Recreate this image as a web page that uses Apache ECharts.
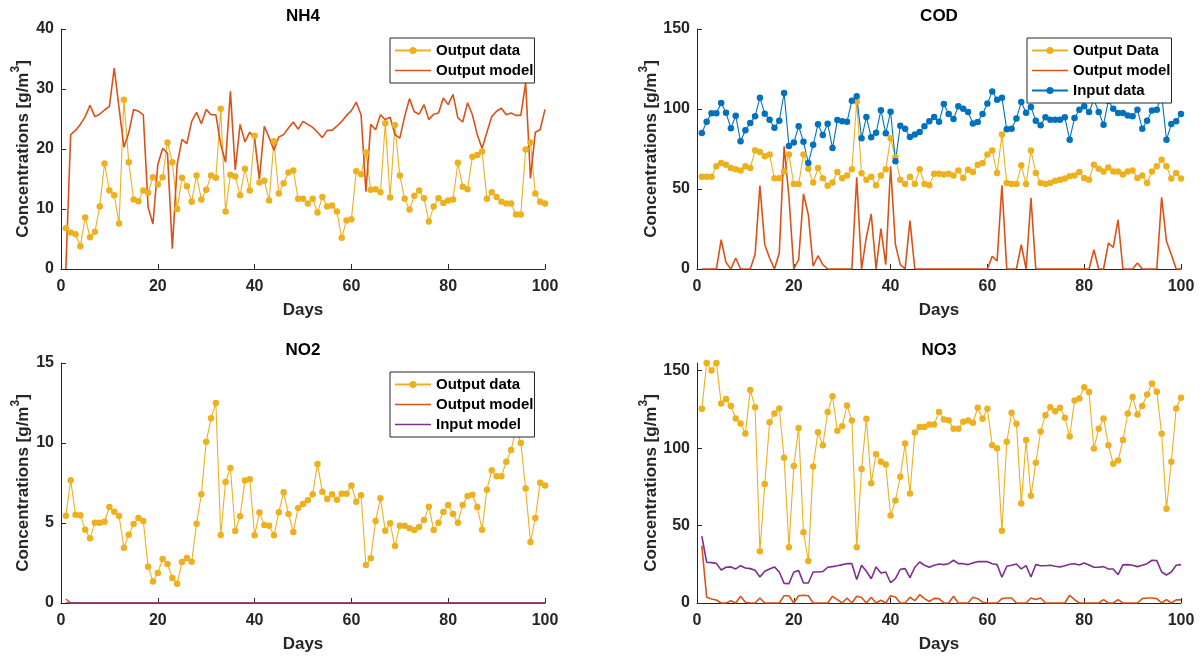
<!DOCTYPE html>
<html><head><meta charset="utf-8">
<script src="https://cdn.jsdelivr.net/npm/echarts@6/dist/echarts.min.js"></script>
<style>html,body{margin:0;padding:0;background:#fff}#c{width:1203px;height:656px}</style>
</head><body><div id="c"></div>
<script>
const days = [1,2,3,4,5,6,7,8,9,10,11,12,13,14,15,16,17,18,19,20,21,22,23,24,25,26,27,28,29,30,31,32,33,34,35,36,37,38,39,40,41,42,43,44,45,46,47,48,49,50,51,52,53,54,55,56,57,58,59,60,61,62,63,64,65,66,67,68,69,70,71,72,73,74,75,76,77,78,79,80,81,82,83,84,85,86,87,88,89,90,91,92,93,94,95,96,97,98,99,100];
const titles = ['NH4', 'COD', 'NO2', 'NO3'];
const xTicks = [0, 20, 40, 60, 80, 100];
const nh4Ticks = [0, 10, 20, 30, 40];
const codTicks = [0, 50, 100, 150];
const no2Ticks = [0, 5, 10, 15];
const no3Ticks = [0, 50, 100, 150];
const no3Max = 155;

const nh4OutputData = [6.8,6.1,5.8,3.8,8.6,5.3,6.2,10.4,17.6,13.1,12.3,7.6,28.2,17.8,11.6,11.3,13.1,12.7,15.3,14.1,15.3,21.1,17.8,10.0,15.2,13.8,11.2,15.6,11.6,13.2,15.6,15.2,26.7,9.6,15.7,15.4,12.3,16.7,13.1,22.2,14.4,14.7,11.4,21.3,12.6,14.3,16.1,16.4,11.7,11.7,10.9,11.7,9.4,12.0,10.4,10.6,9.6,5.2,8.1,8.3,16.3,15.8,19.4,13.2,13.3,12.8,24.3,11.9,24.0,15.6,11.7,9.9,12.2,13.1,11.8,7.9,10.4,11.8,11.0,11.4,11.6,17.7,13.7,13.3,18.7,19.0,19.6,11.7,12.8,12.0,11.2,10.9,10.9,9.1,9.1,19.9,21.1,12.6,11.2,10.9];
const nh4OutputModel = [0,22.4,23.1,24.1,25.4,27.3,25.4,25.8,26.5,27.1,33.5,26.8,20.3,22.7,26.6,26.3,25.7,10.3,7.5,17.4,20.1,19.3,3.4,17.4,21.6,20.9,24.6,26.1,24.2,26.6,25.7,25.7,20.8,17.8,29.6,16.5,24.1,21.2,22.8,21.7,15.0,23.8,21.9,19.8,22.0,22.4,23.5,24.5,23.3,24.6,24.1,23.6,22.8,21.9,23.1,23.1,23.8,24.6,25.6,26.4,27.8,25.7,12.9,24.1,23.2,25.7,24.9,25.3,22.4,21.8,25.4,28.4,26.2,25.8,27.4,24.9,25.8,26.0,28.5,27.4,29.1,25.2,24.5,27.7,25.7,22.4,20.1,22.8,25.4,26.3,26.8,25.7,26.0,25.6,25.6,31.0,15.1,22.8,23.2,26.6];

const codOutputData = [57.7,57.7,57.7,64.2,66.3,65.2,63.1,62.3,61.5,64.2,63.1,74.2,73.1,70.4,71.5,56.7,56.7,61.0,71.5,53.1,53.1,71.5,62.7,54.0,63.1,56.7,52.1,54.0,60.6,56.7,58.5,62.3,104.6,59.8,55.8,57.7,52.3,58.5,62.3,81.7,69.8,55.8,53.1,57.7,53.1,62.3,53.1,52.3,59.6,59.6,59.0,59.6,58.5,61.5,56.9,62.1,60.6,65.2,66.3,71.5,74.0,60.0,84.0,53.8,53.1,53.1,64.8,53.1,74.0,60.0,53.8,53.1,53.8,55.2,55.8,56.5,57.9,58.5,60.6,56.9,55.8,65.2,62.7,61.0,63.5,61.0,61.0,59.0,61.0,61.5,56.9,58.5,53.8,61.0,64.2,68.3,64.2,56.5,60.0,56.5];
const codOutputModel = [0,0,0,0,18.3,4,0,6.9,0,0,0,9,52.1,15.2,6.9,0,10,76.7,45,0,5.8,46.9,34,1.7,8.3,2.7,0,0,0,0,0,0,57.3,0,20,34.4,0,25.2,2.7,64.2,15.2,2.7,0,30.2,0,0,0,0,0,0,0,0,0,0,0,0,0,0,0,0,8,5,52.3,0,0,0,15.2,0,44.4,0,0,0,0,0,0,0,0,0,0,0,0,12,0,0,16.2,13.5,30.8,0,0,0,3.7,0,0,0,0,44.8,17.3,9,0,0];
const codInputData = [85.0,92.1,97.3,97.3,103.8,97.7,87.9,95.8,79.8,86.7,91.3,95.4,107.1,97.1,93.3,88.3,92.7,110.0,76.9,79.0,89.2,79.6,66.3,77.7,90.4,83.8,90.8,75.6,93.1,92.3,92.1,105.2,107.9,81.7,95.0,82.3,85.2,99.2,84.8,98.3,67.3,89.6,87.7,82.5,84.0,85.6,89.2,92.3,95.0,92.0,103.1,96.9,93.8,101.7,100.2,98.1,91.0,91.9,96.9,103.5,111.0,105.8,107.1,87.3,87.7,94.0,104.4,97.7,101.3,92.7,89.8,94.8,93.3,93.3,93.3,94.8,80.8,94.4,99.6,101.7,98.1,105.8,98.1,90.2,105.2,100.2,97.5,97.5,96.0,95.4,99.6,87.7,92.7,99.0,99.6,109.0,80.8,90.6,92.3,96.9];

const no2OutputData = [5.46,7.67,5.52,5.48,4.58,4.04,5.02,5.02,5.08,6.0,5.71,5.44,3.46,4.27,4.94,5.31,5.13,2.27,1.35,1.88,2.75,2.44,1.56,1.21,2.56,2.81,2.58,4.96,6.79,10.08,11.54,12.5,4.25,7.56,8.44,4.5,5.42,7.65,7.73,4.23,5.65,4.88,4.83,4.23,5.67,6.92,5.56,4.44,5.94,6.19,6.42,6.79,8.69,6.96,6.5,6.79,6.46,6.83,6.83,7.35,6.33,6.73,2.38,2.79,5.13,6.54,4.52,4.98,3.56,4.83,4.83,4.67,4.56,4.75,5.19,6.02,4.56,5.02,5.69,6.13,5.56,5.02,6.13,6.69,6.77,6.0,4.58,7.08,8.29,7.92,7.92,8.83,9.56,10.9,10.0,7.15,3.81,5.31,7.52,7.35];
const no2OutputModel = [0.25,0,0,0,0,0,0,0,0,0,0,0,0,0,0,0,0,0,0,0,0,0,0,0,0,0,0,0,0,0,0,0,0,0,0,0,0,0,0,0,0,0,0,0,0,0,0,0,0,0,0,0,0,0,0,0,0,0,0,0,0,0,0,0,0,0,0,0,0,0,0,0,0,0,0,0,0,0,0,0,0,0,0,0,0,0,0,0,0,0,0,0,0,0,0,0,0,0,0,0];
const no2InputModel = [0,0,0,0,0,0,0,0,0,0,0,0,0,0,0,0,0,0,0,0,0,0,0,0,0,0,0,0,0,0,0,0,0,0,0,0,0,0,0,0,0,0,0,0,0,0,0,0,0,0,0,0,0,0,0,0,0,0,0,0,0,0,0,0,0,0,0,0,0,0,0,0,0,0,0,0,0,0,0,0,0,0,0,0,0,0,0,0,0,0,0,0,0,0,0,0,0,0,0,0];

const no3OutputData = [125.4,155,150.2,155,128.9,131.7,127.2,119.2,115.9,109.5,137.5,126.5,33.4,76.9,116.8,122.4,125.6,93.8,36.0,88.4,113.1,45.7,27.2,88.1,110.3,101.9,123.3,133.6,111.2,114.2,127.6,117.9,36.0,86.6,119.0,77.4,96.1,91.2,89.4,56.5,66.2,81.5,103.0,70.7,110.1,113.6,113.6,115.3,115.3,123.3,118.5,118.1,112.5,112.5,117.0,117.9,116.4,126.1,119.0,125.4,101.9,100.0,46.6,104.1,122.8,115.7,64.2,105.2,69.2,90.5,110.8,121.3,126.5,123.9,126.1,119.6,107.5,130.8,132.1,139.4,136.2,99.8,112.5,119.2,101.9,89.9,92.0,105.2,122.4,133.0,121.8,127.2,134.7,141.8,136.4,109.3,60.8,91.2,125.6,132.5];
const no3OutputModel = [37,3.7,2.6,1.9,0,0,1.5,0,4.3,0.5,0,0,3.2,0,0,0,0,4.7,4.7,0,4.7,5,4.7,0,0,0,0,4.3,2.2,0,3.2,0,4.3,3.5,0,3.7,0,1.8,0,4.7,3.9,0,0,3.7,1.5,5.4,2.8,1,3,2.8,0,0,4.3,0,0,0,3.7,2.8,0.5,0,0,0,2.8,3.2,3.2,0,0,0,3.2,2.2,3.2,0,0,0,0,0,5,2.2,0,0,0,0,0,2.2,0,0,2.2,0,0,0,0,2.8,3.2,3.2,2.8,0,2.2,0,2,2];
const no3InputModel = [43.1,26.3,26.1,25.6,21.3,23.1,23.3,22.0,24.1,22.6,22.2,21.1,16.8,20.5,22.0,23.3,20.0,12.7,12.5,20.0,20.9,12.9,12.9,20.0,20.0,20.3,23.1,23.5,24.1,24.8,25.4,25.4,15.1,24.4,20.5,15.7,23.3,19.4,20.0,13.1,15.7,21.8,22.2,16.4,23.1,26.5,24.4,23.1,24.4,25.2,24.8,25.4,27.6,25.4,25.4,24.8,25.9,26.7,26.7,26.7,25.4,24.8,16.6,23.7,24.4,25.2,22.0,24.1,16.8,24.8,24.1,24.1,24.4,23.7,23.3,24.1,25.0,25.4,24.6,25.9,24.6,23.1,23.1,23.5,22.0,22.0,18.3,24.6,24.8,24.4,23.5,24.4,25.4,27.6,27.4,20.0,18.1,20.0,24.4,24.8];

const F = "'Liberation Sans', Arial, Helvetica, sans-serif";
const YELLOW = '#EDB120', RED = '#D95319', BLUE = '#0072BD', PURPLE = '#7E2F8E';
const AX = '#262626';
const LINE_ICON = 'path://M0,0H36V1.6H0Z';

const grids = [
  {left: 61, top: 29, width: 484, height: 240},
  {left: 697, top: 29, width: 484, height: 240},
  {left: 61, top: 363, width: 484, height: 240},
  {left: 697, top: 363, width: 484, height: 240}
];

function pairs(vals) { return days.map((d, i) => [d, vals[i]]); }

function xAx(gi) {
  return {
    type: 'value', gridIndex: gi, min: xTicks[0], max: xTicks[xTicks.length - 1], interval: xTicks[1] - xTicks[0],
    name: 'Days', nameLocation: 'middle', nameGap: 33,
    nameTextStyle: {fontSize: 17, fontWeight: 'bold', color: AX, fontFamily: F},
    axisLine: {lineStyle: {color: AX, width: 1}},
    axisTick: {inside: true, length: 5, lineStyle: {color: AX}},
    axisLabel: {fontSize: 16, fontWeight: 'bold', color: AX, margin: 10, fontFamily: F},
    splitLine: {show: false}
  };
}
function yAx(gi, ticks, max) {
  return {
    type: 'value', gridIndex: gi, min: ticks[0], max: max, interval: ticks[1] - ticks[0],
    name: '{a|Concentrations [g/m}{s|3}{a|]}', nameLocation: 'middle', nameGap: 29, nameRotate: 90,
    nameTextStyle: {
      fontFamily: F, color: AX,
      rich: {
        a: {fontSize: 17, fontWeight: 'bold', color: AX, fontFamily: F, lineHeight: 22, verticalAlign: 'bottom'},
        s: {fontSize: 12, fontWeight: 'bold', color: AX, fontFamily: F, lineHeight: 22, verticalAlign: 'top'}
      }
    },
    axisLine: {show: true, lineStyle: {color: AX, width: 1}},
    axisTick: {show: true, inside: true, length: 5, lineStyle: {color: AX}, customValues: ticks},
    axisLabel: {fontSize: 16, fontWeight: 'bold', color: AX, margin: 7, fontFamily: F, customValues: ticks},
    splitLine: {show: false}
  };
}
function dataSeries(name, vals, gi, color) {
  return {type: 'line', name: name, xAxisIndex: gi, yAxisIndex: gi, data: pairs(vals),
    symbol: 'circle', symbolSize: 6.5, showSymbol: true, itemStyle: {color: color},
    lineStyle: {color: color, width: 1.1}, emphasis: {disabled: true}, clip: false};
}
function modelSeries(name, vals, gi, color) {
  return {type: 'line', name: name, xAxisIndex: gi, yAxisIndex: gi, data: pairs(vals),
    symbol: 'none', showSymbol: false, itemStyle: {color: color},
    lineStyle: {color: color, width: 1.6}, emphasis: {disabled: true}};
}
function legend(left, top, items) {
  return {left: left, top: top, orient: 'vertical', itemWidth: 36, itemHeight: 9, itemGap: 1,
    padding: [3, 1, 3, 4], borderColor: AX, borderWidth: 1, backgroundColor: '#fff',
    selectedMode: false, textStyle: {fontSize: 15, fontWeight: 'bold', color: '#000', fontFamily: F, lineHeight: 19},
    data: items};
}

const option = {
  animation: false,
  backgroundColor: '#fff',
  title: titles.map((t, i) => ({
    text: t, left: grids[i].left + grids[i].width / 2, top: grids[i].top - 21, textAlign: 'center', padding: 0,
    textStyle: {fontSize: 17, fontWeight: 'bold', color: '#000', fontFamily: F}
  })),
  grid: grids,
  xAxis: [xAx(0), xAx(1), xAx(2), xAx(3)],
  yAxis: [yAx(0, nh4Ticks, nh4Ticks[nh4Ticks.length - 1]), yAx(1, codTicks, codTicks[codTicks.length - 1]),
          yAx(2, no2Ticks, no2Ticks[no2Ticks.length - 1]), yAx(3, no3Ticks, no3Max)],
  legend: [
    legend(390, 38, ['Output data', {name: 'Output model', icon: LINE_ICON}]),
    legend(1027, 38, ['Output Data', {name: 'Output model', icon: LINE_ICON}, 'Input data']),
    legend(390, 372, ['Output data', {name: 'Output model', icon: LINE_ICON}, {name: 'Input model', icon: LINE_ICON}])
  ],
  series: [
    dataSeries('Output data', nh4OutputData, 0, YELLOW),
    modelSeries('Output model', nh4OutputModel, 0, RED),
    dataSeries('Output Data', codOutputData, 1, YELLOW),
    modelSeries('Output model', codOutputModel, 1, RED),
    dataSeries('Input data', codInputData, 1, BLUE),
    dataSeries('Output data', no2OutputData, 2, YELLOW),
    modelSeries('Output model', no2OutputModel, 2, RED),
    modelSeries('Input model', no2InputModel, 2, PURPLE),
    dataSeries('Output data', no3OutputData, 3, YELLOW),
    modelSeries('Output model', no3OutputModel, 3, RED),
    modelSeries('Input model', no3InputModel, 3, PURPLE)
  ]
};
const chart = echarts.init(document.getElementById('c'), null, {renderer: 'canvas'});
chart.setOption(option);
</script>
</body></html>
